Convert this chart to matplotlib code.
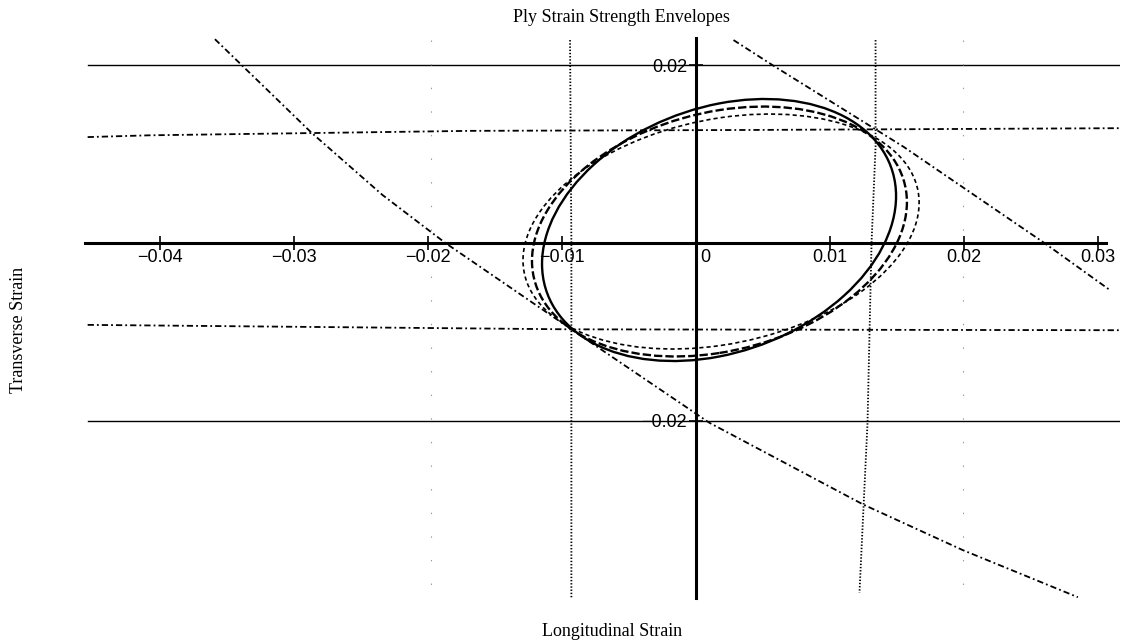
import numpy as np
import matplotlib
matplotlib.use("Agg")
import matplotlib.pyplot as plt
from matplotlib.patches import Ellipse
from matplotlib.transforms import Affine2D, ScaledTranslation

plt.rcParams['lines.scale_dashes'] = False

# ---------------- data ----------------
x_ticks = [-0.04, -0.03, -0.02, -0.01, 0.0, 0.01, 0.02, 0.03]
x_tick_labels = ['\u22120.04', '\u22120.03', '\u22120.02', '\u22120.01', '0', '0.01', '0.02', '0.03']
y_ticks = [-0.02, 0.02]
y_tick_labels = ['\u22120.02', '0.02']

# solid transverse strain limits
transverse_limits = [0.02, -0.02]

# near-horizontal dash-dot envelopes
upper_env_x = [-0.0454, -0.0408, -0.0169, 0.0040, 0.0316]
upper_env_y = [0.0119, 0.0121, 0.0126, 0.0127, 0.0129]
lower_env_x = [-0.0454, -0.0093, 0.0316]
lower_env_y = [-0.0092, -0.0097, -0.0098]

# near-vertical dotted envelopes
left_dot_x = [-0.0094, -0.0093, -0.0093]
left_dot_y = [0.0228, 0.0, -0.0399]
right_dot_x = [0.0134, 0.0134, 0.0131, 0.0128, 0.0122]
right_dot_y = [0.0228, 0.0108, 0.0, -0.0202, -0.0393]

# faint dotted guides
faint_x = [-0.0198, 0.0199]

# diagonal dash-dot envelopes
shear_upper_x = [0.0028, 0.0058, 0.0155, 0.0260, 0.0309]
shear_upper_y = [0.0228, 0.0199, 0.0108, 0.0, -0.0053]
shear_lower_x = [-0.0359, -0.0287, -0.0234, -0.0187, -0.0093, 0.0010, 0.0125, 0.0199, 0.0285]
shear_lower_y = [0.0229, 0.0124, 0.0054, 0.0, -0.0097, -0.0202, -0.0294, -0.0345, -0.0398]

# ellipse envelopes: centre, half x-extent, half y-extent, correlation
ell_cx = [0.00172, 0.00175, 0.00187]
ell_cy = [0.00146, 0.00129, 0.00129]
ell_wx = [0.01321, 0.01399, 0.01478]
ell_hy = [0.01472, 0.01404, 0.01320]
ell_rho = [0.259, 0.235, 0.245]
ell_styles = ['-', (0, (6, 2.2)), (0, (3, 2.2))]
ell_widths = [1.7, 1.7, 1.2]

# ---------------- figure ----------------
W, H = 1124, 640
fig = plt.figure(figsize=(W / 100, H / 100), dpi=100)
ax = fig.add_axes([85 / W, (H - 598) / H, (1120 - 85) / W, (598 - 38) / H])
ax.set_xlim(-0.045597, 0.031642)
ax.set_ylim(-0.039888, 0.023034)

for s in ['top', 'right']:
    ax.spines[s].set_visible(False)
ax.spines['left'].set_position(('data', 0))
ax.spines['bottom'].set_position(('data', 0))
ax.spines['left'].set_linewidth(2.2)
ax.spines['bottom'].set_linewidth(2.2)
ax.spines['bottom'].set_bounds(-0.0456, 0.0306)

ax.set_xticks(x_ticks, x_tick_labels)
ax.set_yticks(y_ticks, y_tick_labels)
for lbl in ax.get_xticklabels() + ax.get_yticklabels():
    lbl.set_fontfamily('Liberation Sans')
    lbl.set_fontsize(13)
ax.tick_params(axis='x', direction='inout', length=10, width=1.2, pad=-1)
ax.tick_params(axis='y', direction='inout', length=10, width=1.2, pad=1.5)
for lbl, v in zip(ax.get_xticklabels(), x_ticks):
    if v == 0:
        lbl.set_transform(lbl.get_transform() + ScaledTranslation(7 / 72, 0, fig.dpi_scale_trans))

dashdot = (0, (4.5, 2.2, 1.3, 2.2))
dotted = (0, (1.0, 1.3))

for y in transverse_limits:
    ax.plot([-0.0454, 0.0316], [y, y], color='black', lw=1.0)

ax.plot(upper_env_x, upper_env_y, color='black', lw=1.3, ls=dashdot)
ax.plot(lower_env_x, lower_env_y, color='black', lw=1.3, ls=dashdot)
ax.plot(left_dot_x, left_dot_y, color='black', lw=1.3, ls=dotted)
ax.plot(right_dot_x, right_dot_y, color='black', lw=1.3, ls=dotted)
for fx in faint_x:
    ax.plot([fx, fx], [0.0228, -0.0399], color='0.6', lw=0.8, ls=(0, (1, 16)))
ax.plot(shear_upper_x, shear_upper_y, color='black', lw=1.3, ls=dashdot)
ax.plot(shear_lower_x, shear_lower_y, color='black', lw=1.3, ls=dashdot)

for cx, cy, wx, hy, r, ls, lw in zip(ell_cx, ell_cy, ell_wx, ell_hy, ell_rho, ell_styles, ell_widths):
    cov = np.array([[wx * wx, r * wx * hy], [r * wx * hy, hy * hy]])
    L = np.linalg.cholesky(cov)
    tr = Affine2D(np.array([[L[0, 0], L[0, 1], cx], [L[1, 0], L[1, 1], cy], [0, 0, 1]])) + ax.transData
    ax.add_patch(Ellipse((0, 0), 2, 2, transform=tr, fill=False, edgecolor='black', lw=lw, ls=ls))

serif = 'Liberation Serif'
fig.text(621 / W, 1 - 17 / H, 'Ply Strain Strength Envelopes', ha='center', va='center',
         fontsize=13, family=serif)
fig.text(612 / W, 1 - 631 / H, 'Longitudinal Strain', ha='center', va='center',
         fontsize=13, family=serif)
fig.text(19 / W, 1 - 330 / H, 'Transverse Strain', ha='center', va='center',
         fontsize=13, family=serif, rotation=90)

fig.savefig('out.png', dpi=100)
